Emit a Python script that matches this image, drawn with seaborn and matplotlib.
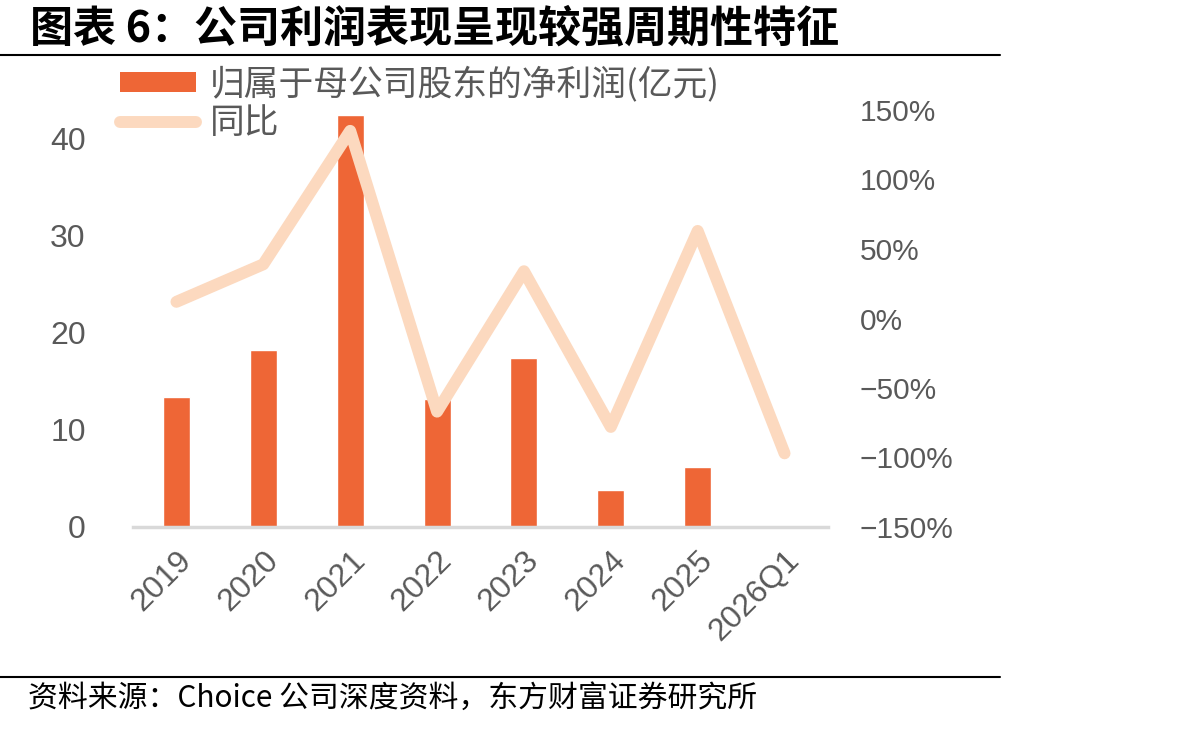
import numpy as np
import pandas as pd
import matplotlib
matplotlib.use("Agg")
import matplotlib.pyplot as plt
import seaborn as sns
from matplotlib.patches import Patch
from matplotlib.lines import Line2D
from matplotlib.ticker import FuncFormatter

# Data
periods = ["2019", "2020", "2021", "2022", "2023", "2024", "2025", "2026Q1"]
bar_periods = ["2019", "2020", "2021", "2022", "2023", "2024", "2025"]
net_profit = [13.4, 18.2, 42.4, 13.2, 17.4, 3.8, 6.2]       # 亿元
yoy_growth = [12, 39, 135, -67, 34, -78, 63, -97]           # %

bar_color = "#EE6636"
line_color = "#FCD9BF"
grey = "#595959"

sns.set_theme(style="white")
plt.rcParams["font.family"] = ["Liberation Sans", "Noto Sans CJK SC", "DejaVu Sans"]
cjk = ["Noto Sans CJK SC", "DejaVu Sans"]

fig = plt.figure(figsize=(11.92, 7.3), dpi=100)
ax = fig.add_axes([133 / 1192, 1 - 527 / 730, (828 - 133) / 1192, (527 - 110) / 730])

df_bar = pd.DataFrame({"period": bar_periods, "profit": net_profit})
sns.barplot(data=df_bar, x="period", y="profit", order=periods, color=bar_color,
            saturation=1, width=0.31, ax=ax)

ax2 = ax.twinx()
df_line = pd.DataFrame({"pos": np.arange(len(periods)), "yoy": yoy_growth})
sns.lineplot(data=df_line, x="pos", y="yoy", color=line_color, linewidth=8.6,
             solid_capstyle="round", solid_joinstyle="round", ax=ax2)

ax.set_xlim(-0.5, len(periods) - 0.5)
ax.set_ylim(0, 42.9)
ax.set_yticks([0, 10, 20, 30, 40])
ax2.set_ylim(-150, 150)
ax2.set_yticks([-150, -100, -50, 0, 50, 100, 150])
ax2.yaxis.set_major_formatter(FuncFormatter(lambda v, p: f"{int(v)}%".replace("-", "\u2212")))

ax.set_xlabel("")
ax.set_ylabel("")
ax2.set_xlabel("")
ax2.set_ylabel("")

for a in (ax, ax2):
    for s in a.spines.values():
        s.set_visible(False)
    a.grid(False)
ax.spines["bottom"].set_visible(True)
ax.spines["bottom"].set_color("#D9D9D9")
ax.spines["bottom"].set_linewidth(2.5)

ax.tick_params(axis="y", length=0, labelsize=23, labelcolor=grey, pad=34)
ax2.tick_params(axis="y", length=0, labelsize=21.5, labelcolor=grey, pad=23)
ax.tick_params(axis="x", length=0, labelsize=23, labelcolor=grey, pad=13)
ax.set_xticks(range(len(periods)))
ax.set_xticklabels(periods, rotation=45, ha="right", rotation_mode="anchor")

# Legend
handles = [Patch(facecolor=bar_color, edgecolor="none"),
           Line2D([0], [0], color=line_color, linewidth=8.6, solid_capstyle="round")]
labels = ["归属于母公司股东的净利润(亿元)", "同比"]
leg = fig.legend(handles, labels, loc="upper left", bbox_to_anchor=(120 / 1192, 1 - 66 / 730),
                 frameon=False, borderpad=0, borderaxespad=0, handlelength=2.2,
                 handleheight=0.5, handletextpad=0.4, labelspacing=0.12,
                 prop={"family": cjk, "size": 25})
for t in leg.get_texts():
    t.set_color(grey)

# Title and source
fig.text(30 / 1192, 1 - 28 / 730, "图表 6：公司利润表现呈现较强周期性特征", fontsize=31,
         fontweight="bold", family=cjk, color="black", va="center", ha="left")
fig.add_artist(Line2D([0, 1000 / 1192], [1 - 55 / 730] * 2, color="black", linewidth=1.5))
fig.add_artist(Line2D([0, 1000 / 1192], [1 - 677 / 730] * 2, color="black", linewidth=1.5))
fig.text(28 / 1192, 1 - 698 / 730, "资料来源：Choice 公司深度资料，东方财富证券研究所", fontsize=21.5,
         family=cjk, color="black", va="center", ha="left")

fig.savefig("out.png", dpi=100)
